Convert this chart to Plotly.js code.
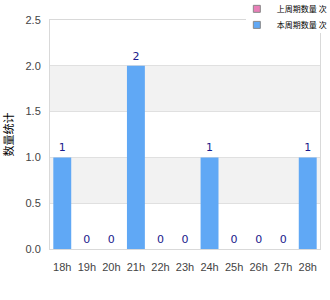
<!DOCTYPE html>
<html>
<head>
<meta charset="utf-8">
<script src="https://cdn.plot.ly/plotly-3.0.1.min.js"></script>
<style>html,body{margin:0;padding:0;background:#fff;}#chart{width:330px;height:300px;}</style>
</head>
<body>
<div id="chart"></div>
<script>
var categories = ["18h","19h","20h","21h","22h","23h","24h","25h","26h","27h","28h"];
var seriesBlue = [1,0,0,2,0,0,1,0,0,0,1];
var seriesNames = ["上周期数量 次","本周期数量 次"];
var yTitle = "数量统计";
var yTicks = [0,0.5,1.0,1.5,2.0,2.5];
var bands = [[0.5,1.0],[1.5,2.0]];

var shapes = bands.map(function(b){
  return {type:'rect', xref:'paper', yref:'y', x0:0, x1:1, y0:b[0], y1:b[1],
    fillcolor:'#f2f2f2', line:{width:0}, layer:'below'};
});
// white backdrop behind the legend, hiding the frame corner as in the original
shapes.push({type:'rect', xref:'paper', yref:'paper', x0:0.726, x1:1.02, y0:0.943, y1:1.02,
  fillcolor:'#fff', line:{width:0}, layer:'above'});

var legFont = {family:'Noto Sans CJK SC', size:8, color:'#000'};
var data = [
  {type:'scatter', mode:'markers', x:[null], y:[null], name:seriesNames[0], legend:'legend',
   marker:{symbol:'square', size:7, color:'#e87fb8', line:{color:'#888', width:1}}, hoverinfo:'skip'},
  {type:'scatter', mode:'markers', x:[null], y:[null], name:seriesNames[1], legend:'legend2',
   marker:{symbol:'square', size:7, color:'#60a8f5', line:{color:'#888', width:1}}, hoverinfo:'skip'},
  {type:'bar', x:categories, y:seriesBlue, showlegend:false,
   marker:{color:'#60a8f5'}, text:seriesBlue.map(String), textposition:'outside',
   cliponaxis:false, textfont:{family:'DejaVu Sans', size:11, color:'#1a1a8c'}}
];

var layout = {
  width:330, height:300,
  margin:{l:50, r:10, t:20, b:51, autoexpand:false},
  paper_bgcolor:'#fff', plot_bgcolor:'#fff',
  bargap:0.27,
  showlegend:true,
  legend:{x:0.692, xanchor:'left', y:1.112, yanchor:'top', bgcolor:'rgba(0,0,0,0)',
    font:legFont, itemwidth:30},
  legend2:{x:0.692, xanchor:'left', y:1.042, yanchor:'top', bgcolor:'rgba(0,0,0,0)',
    font:legFont, itemwidth:30},
  xaxis:{type:'category', tickfont:{family:'Liberation Sans', size:11, color:'#444'},
    showline:true, linecolor:'#d9d9d9', mirror:true, ticks:'outside', ticklen:8, tickcolor:'rgba(0,0,0,0)',
    showgrid:false, fixedrange:true},
  yaxis:{range:[0,2.5], tickvals:yTicks, ticktext:yTicks.map(function(v){return v.toFixed(1);}),
    tickfont:{family:'Liberation Sans', size:11, color:'#444'},
    ticks:'outside', ticklen:6, tickcolor:'rgba(0,0,0,0)',
    showline:true, linecolor:'#d9d9d9', mirror:true, gridcolor:'#e0e0e0', zeroline:false,
    title:{text:yTitle, font:{family:'Noto Sans CJK SC', size:11, color:'#000'}, standoff:19}},
  shapes:shapes
};
Plotly.newPlot('chart', data, layout, {displayModeBar:false, staticPlot:true});
</script>
</body>
</html>
